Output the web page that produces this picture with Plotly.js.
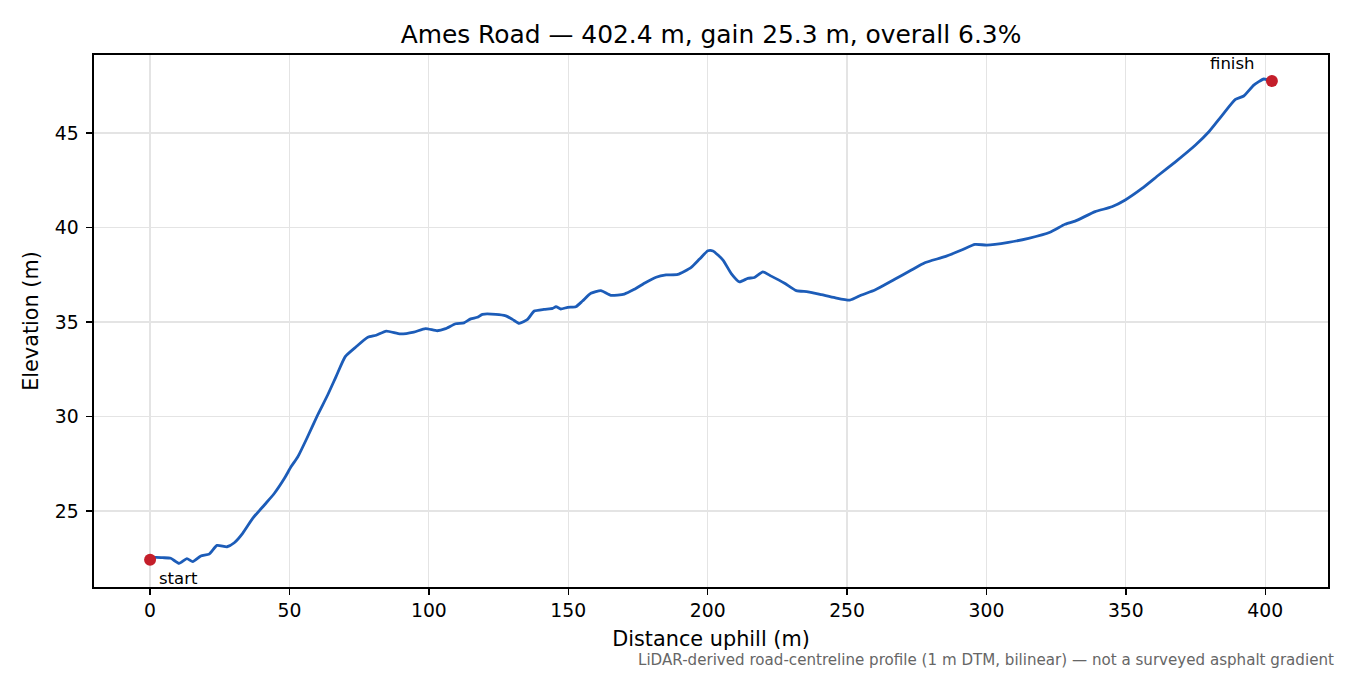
<!DOCTYPE html>
<html>
<head>
<meta charset="utf-8">
<script src="https://cdn.plot.ly/plotly-3.0.1.min.js"></script>
<style>
  body { margin: 0; background: #fff; }
  #chart { width: 1350px; height: 675px; }
</style>
</head>
<body>
<div id="chart"></div>
<script>
// distance along the road (m) and elevation (m)
var distance = [0, 2.0, 4.5, 7.4, 10.4, 13.2, 15.3, 18.2, 21.2, 24.0, 27.6, 30.2, 33.2, 36.8,
    41.0, 44.6, 48.2, 50.6, 53.0, 56.5, 60.1, 63.7, 66.7, 70.0, 73.9, 78.1, 81.1, 84.7,
    89.8, 94.6, 98.8, 103.0, 106.0, 109.6, 112.6, 115.0, 117.4, 119.2, 124.0, 127.6,
    130.0, 132.4, 135.4, 137.8, 141.3, 144.4, 145.6, 147.3, 149.8, 152.7, 155.1, 158.1,
    161.7, 165.3, 170.1, 173.7, 177.3, 181.5, 185.1, 189.3, 194.1, 197.1, 200.1, 201.9,
    205.5, 208.4, 211.4, 214.4, 216.8, 219.8, 222.8, 227.6, 231.8, 236.0, 240.8, 245.6,
    251.0, 255.2, 260.0, 267.1, 273.1, 277.9, 285.1, 291.1, 295.9, 300.1, 307.9, 315.1,
    322.8, 328.2, 331.8, 339.0, 345.0, 349.8, 355.8, 361.8, 367.8, 375.0, 379.8, 384.6,
    389.3, 392.3, 395.9, 399.5, 402.4];
var elevation = [22.42, 22.55, 22.53, 22.50, 22.23, 22.48, 22.32, 22.62, 22.72, 23.18, 23.11,
    23.32, 23.82, 24.61, 25.32, 25.94, 26.73, 27.35, 27.87, 28.93, 30.08, 31.14, 32.11,
    33.17, 33.69, 34.19, 34.30, 34.52, 34.37, 34.47, 34.65, 34.54, 34.65, 34.91, 34.96,
    35.17, 35.25, 35.41, 35.41, 35.33, 35.14, 34.93, 35.14, 35.58, 35.67, 35.72, 35.81,
    35.69, 35.78, 35.81, 36.11, 36.52, 36.66, 36.41, 36.48, 36.73, 37.05, 37.37, 37.49,
    37.52, 37.89, 38.33, 38.77, 38.76, 38.28, 37.58, 37.13, 37.31, 37.36, 37.65, 37.43,
    37.05, 36.66, 36.60, 36.45, 36.29, 36.16, 36.43, 36.69, 37.26, 37.75, 38.14, 38.46,
    38.81, 39.11, 39.07, 39.22, 39.43, 39.75, 40.17, 40.34, 40.84, 41.10, 41.46, 42.07,
    42.78, 43.48, 44.37, 45.07, 45.95, 46.78, 46.96, 47.54, 47.86, 47.75];

var endNames = ["start", "finish"];
var endDist = [distance[0], distance[distance.length - 1]];
var endElev = [elevation[0], elevation[elevation.length - 1]];

var xTicks = [0, 50, 100, 150, 200, 250, 300, 350, 400];
var yTicks = [25, 30, 35, 40, 45];

var font = "DejaVu Sans, sans-serif";

let data = [{
    type: "scatter",
    mode: "lines",
    x: distance,
    y: elevation,
    line: {color: "#1c5cb8", width: 2.8, shape: "spline", smoothing: 0.5},
    hoverinfo: "skip"
},
{
    type: "scatter",
    mode: "markers",
    x: endDist,
    y: endElev,
    marker: {color: "#c41e2a", size: 12},
    hoverinfo: "skip"
}];

let layout = {
    width: 1350,
    height: 675,
    showlegend: false,
    paper_bgcolor: "#fff",
    plot_bgcolor: "#fff",
    font: {family: font, color: "#000"},
    margin: {l: 94, r: 22, t: 55, b: 88},
    title: {
        text: "Ames Road \u2014 402.4 m, gain 25.3 m, overall 6.3%",
        font: {size: 24.9, family: font, color: "#000"},
        xref: "paper", x: 0.5, xanchor: "center",
        yref: "container", y: 1 - 34 / 675, yanchor: "middle"
    },
    xaxis: {
        range: [-20.12, 422.52],
        tickvals: xTicks,
        ticktext: xTicks.map(String),
        ticks: "outside", ticklen: 6, tickwidth: 1.4, tickcolor: "#000",
        tickfont: {size: 18.8},
        showline: true, linecolor: "#000", linewidth: 1.6, mirror: true,
        showgrid: true, gridcolor: "#e4e4e4", gridwidth: 1.2,
        zeroline: false,
        title: {text: "Distance uphill (m)", font: {size: 20.8}, standoff: 11}
    },
    yaxis: {
        range: [20.98, 49.13],
        tickvals: yTicks,
        ticktext: yTicks.map(String),
        ticks: "outside", ticklen: 6, tickwidth: 1.4, tickcolor: "#000",
        tickfont: {size: 18.8},
        ticklabelstandoff: 4,
        showline: true, linecolor: "#000", linewidth: 1.6, mirror: true,
        showgrid: true, gridcolor: "#e4e4e4", gridwidth: 1.2,
        zeroline: false,
        title: {text: "Elevation (m)", font: {size: 20.8}, standoff: 10}
    },
    annotations: [
        {x: endDist[0], y: endElev[0], text: endNames[0], showarrow: false,
         xshift: 28, yshift: -19, font: {size: 16.5, color: "#000"}},
        {x: endDist[1], y: endElev[1], text: endNames[1], showarrow: false,
         xshift: -39, yshift: 18, font: {size: 16.5, color: "#000"}},
        {xref: "paper", yref: "paper", x: 1 + 8 / 1234, y: -73 / 532, xanchor: "right", yanchor: "middle",
         text: "LiDAR-derived road-centreline profile (1 m DTM, bilinear) \u2014 not a surveyed asphalt gradient",
         showarrow: false, font: {size: 15.1, color: "#666"}}
    ]
};

Plotly.newPlot("chart", data, layout, {displayModeBar: false, staticPlot: true});
</script>
</body>
</html>
